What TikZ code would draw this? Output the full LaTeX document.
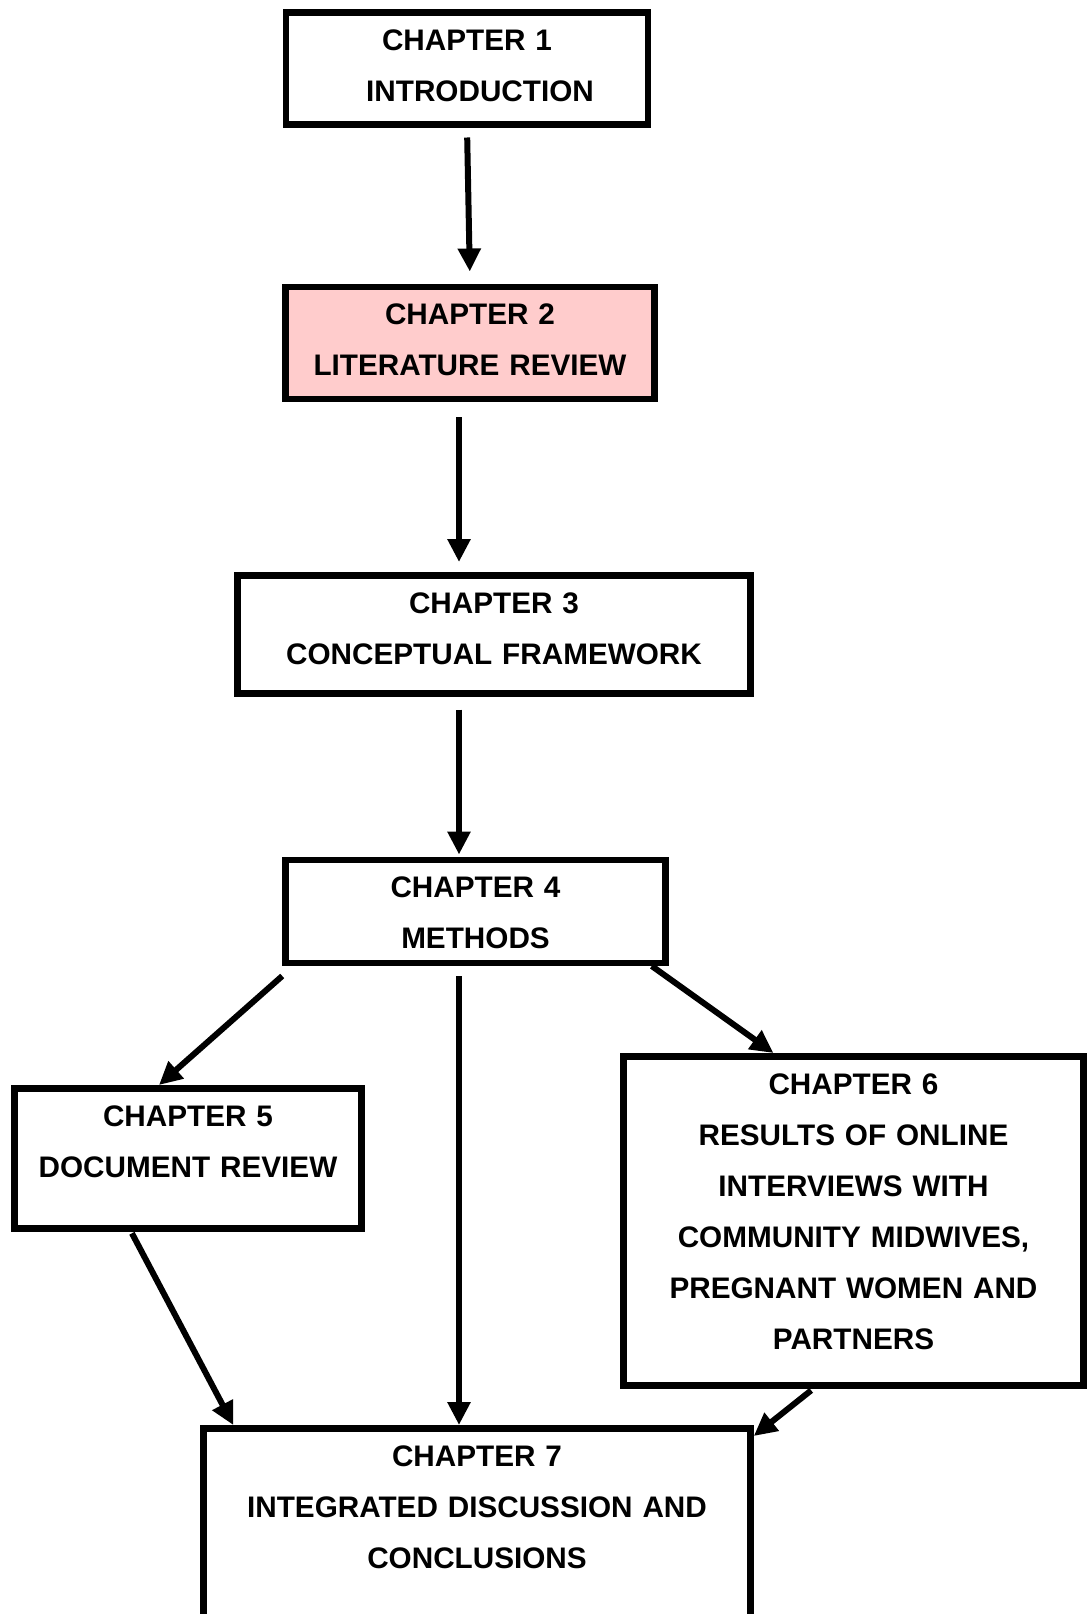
\documentclass[tikz,border=0pt]{standalone}
\usepackage{fontspec}
\setmainfont{Liberation Sans}
\usetikzlibrary{positioning}
\usetikzlibrary{arrows.meta}

\definecolor{litpink}{RGB}{255,204,204}

\begin{document}
\begin{tikzpicture}[x=1pt, y=1pt,
    block/.style={rectangle, draw=black, fill=white, line width=6.5pt, align=center,
        font=\fontsize{29.7pt}{51pt}\selectfont\bfseries, text width=#1,
        inner xsep=6pt, inner ysep=17pt, text height=21pt},
    flow/.style={line width=6pt, -{Triangle[length=23pt, width=22pt]}},
]
    \useasboundingbox (0,0) rectangle (1087,-1614);

    \node[block=350pt, anchor=north, text depth=57pt] (C1) at (467,-9) {CHAPTER 1\\\hspace*{26pt}INTRODUCTION};
    \node[block=357pt, fill=litpink, text depth=57pt] (C2) [below=156pt of C1, xshift=3pt] {CHAPTER 2\\LITERATURE REVIEW};
    \node[block=501pt, text depth=63pt] (C3) [below=170pt of C2, xshift=24pt] {CHAPTER 3\\CONCEPTUAL FRAMEWORK};
    \node[block=368pt, text depth=48pt] (C4) [below=160pt of C3, xshift=-18.5pt] {CHAPTER 4\\METHODS};

    \node[block=335pt, text depth=85pt] (C5) [below=119pt of C4, xshift=-287.5pt] {CHAPTER 5\\DOCUMENT REVIEW};
    \node[block=448pt, text depth=274pt] (C6) [below=87pt of C4, xshift=378pt] {CHAPTER 6\\RESULTS OF ONLINE\\INTERVIEWS WITH\\COMMUNITY MIDWIVES,\\PREGNANT WOMEN AND\\PARTNERS};

    \node[block=535pt, text depth=200pt] (C7) [below=459pt of C4, xshift=1.5pt] {CHAPTER 7\\INTEGRATED DISCUSSION AND\\CONCLUSIONS};

    \draw[flow, shorten <=10pt, shorten >=12pt] (C1.south) -- (C2.north);
    \draw[flow, shorten <=15pt, shorten >=10pt] ([xshift=-11pt]C2.south) -- ([xshift=-35pt]C3.north);
    \draw[flow, shorten <=13pt, shorten >=2pt] ([xshift=-35pt]C3.south) -- ([xshift=-16.5pt]C4.north);

    \draw[flow] ([yshift=-10pt]C4.south west) -- ([xshift=-29pt]C5.north);
    \draw[flow, shorten <=10pt] ([xshift=-16.5pt]C4.south) -- ([xshift=-18pt]C7.north);
    \draw[flow] ([xshift=-17pt]C4.south east) -- ([xshift=-80pt]C6.north);

    \draw[flow, shorten <=2pt] ([xshift=-57pt]C5.south) -- ([xshift=33pt]C7.north west);
    \draw[flow, shorten <=3pt] ([xshift=-40pt]C6.south) -- ([yshift=-11pt]C7.north east);
\end{tikzpicture}
\end{document}
